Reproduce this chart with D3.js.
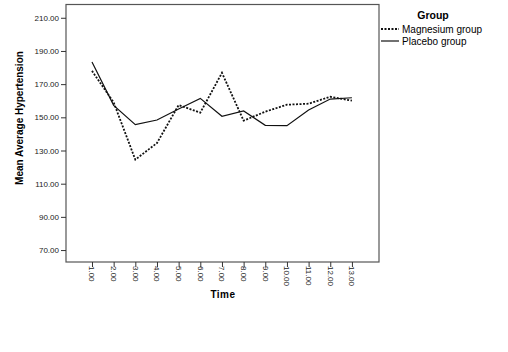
<!DOCTYPE html>
<html>
<head>
<meta charset="utf-8">
<script src="https://cdn.jsdelivr.net/npm/d3@7"></script>
<style>
  body { margin: 0; background: #fff; }
  text { font-family: "Liberation Sans", Arial, sans-serif; }
</style>
</head>
<body>
<script>
// data
var times = [1, 2, 3, 4, 5, 6, 7, 8, 9, 10, 11, 12, 13];
var magnesium = [178, 159, 124.5, 134.5, 157.4, 152.8, 176.8, 148, 153.4, 157.6, 158.2, 162.4, 160];
var placebo = [183.3, 157.2, 145.6, 148.4, 155, 161.4, 150.6, 153.8, 145.2, 145, 154.4, 161, 161.8];
var yTicks = [70, 90, 110, 130, 150, 170, 190, 210];
var seriesNames = ["Magnesium group", "Placebo group"];

var width = 508, height = 352;
var plot = {left: 66, right: 379, top: 4.5, bottom: 262};

var svg = d3.select("body").append("svg")
    .attr("width", width)
    .attr("height", height);

// set the ranges
var x = d3.scaleLinear().domain([-0.2, 14.25]).range([plot.left, plot.right]);
var y = d3.scaleLinear().domain([62.8, 218]).range([plot.bottom, plot.top]);

// frame
svg.append("rect")
    .attr("x", plot.left)
    .attr("y", plot.top)
    .attr("width", plot.right - plot.left)
    .attr("height", plot.bottom - plot.top)
    .attr("fill", "none")
    .attr("stroke", "#555")
    .attr("stroke-width", 1.2);

// y axis
var yAxis = svg.append("g")
    .attr("transform", "translate(" + plot.left + ",0)")
    .call(d3.axisLeft(y).tickValues(yTicks).tickFormat(d3.format(".2f")).tickSize(5).tickPadding(2));
yAxis.select(".domain").remove();
yAxis.selectAll("line").attr("stroke", "#333");
yAxis.selectAll("text").attr("font-size", 8).attr("fill", "#222")
    .style("font-family", "'Liberation Sans', Arial, sans-serif");

// x axis
var xAxis = svg.append("g")
    .attr("transform", "translate(0," + plot.bottom + ")")
    .call(d3.axisBottom(x).tickValues(times).tickFormat(d3.format(".2f")).tickSize(5).tickPadding(0));
xAxis.select(".domain").remove();
xAxis.selectAll("line").attr("stroke", "#333");
xAxis.selectAll("text")
    .attr("font-size", 8)
    .attr("fill", "#222")
    .style("font-family", "'Liberation Sans', Arial, sans-serif")
    .attr("text-anchor", "start")
    .attr("dy", null)
    .attr("transform", "translate(-3,4) rotate(90)")
    .attr("x", 0)
    .attr("y", 0);

// lines
var line = d3.line()
    .x(function(d, i) { return x(times[i]); })
    .y(function(d) { return y(d); });

svg.append("path")
    .datum(placebo)
    .attr("fill", "none")
    .attr("stroke", "#111")
    .attr("stroke-width", 1.2)
    .attr("d", line);

svg.append("path")
    .datum(magnesium)
    .attr("fill", "none")
    .attr("stroke", "#111")
    .attr("stroke-width", 1.8)
    .attr("stroke-dasharray", "2,1.5")
    .attr("d", line);

// axis titles
svg.append("text")
    .attr("transform", "translate(23,118) rotate(-90)")
    .attr("text-anchor", "middle")
    .attr("font-size", 10)
    .attr("font-weight", "bold")
    .text("Mean Average Hypertension");

svg.append("text")
    .attr("x", 223)
    .attr("y", 298)
    .attr("text-anchor", "middle")
    .attr("font-size", 10)
    .attr("font-weight", "bold")
    .attr("letter-spacing", 0.5)
    .text("Time");

// legend
var legend = svg.append("g");
legend.append("text")
    .attr("x", 433)
    .attr("y", 19)
    .attr("text-anchor", "middle")
    .attr("font-size", 10.5)
    .attr("font-weight", "bold")
    .text("Group");

seriesNames.forEach(function(name, i) {
  var ly = 29 + i * 12;
  legend.append("line")
      .attr("x1", 381).attr("x2", 399)
      .attr("y1", ly).attr("y2", ly)
      .attr("stroke", "#111")
      .attr("stroke-width", i === 0 ? 1.8 : 1.2)
      .attr("stroke-dasharray", i === 0 ? "2,1.5" : null);
  legend.append("text")
      .attr("x", 402)
      .attr("y", ly + 3.5)
      .attr("font-size", 10)
      .text(name);
});
</script>
</body>
</html>
